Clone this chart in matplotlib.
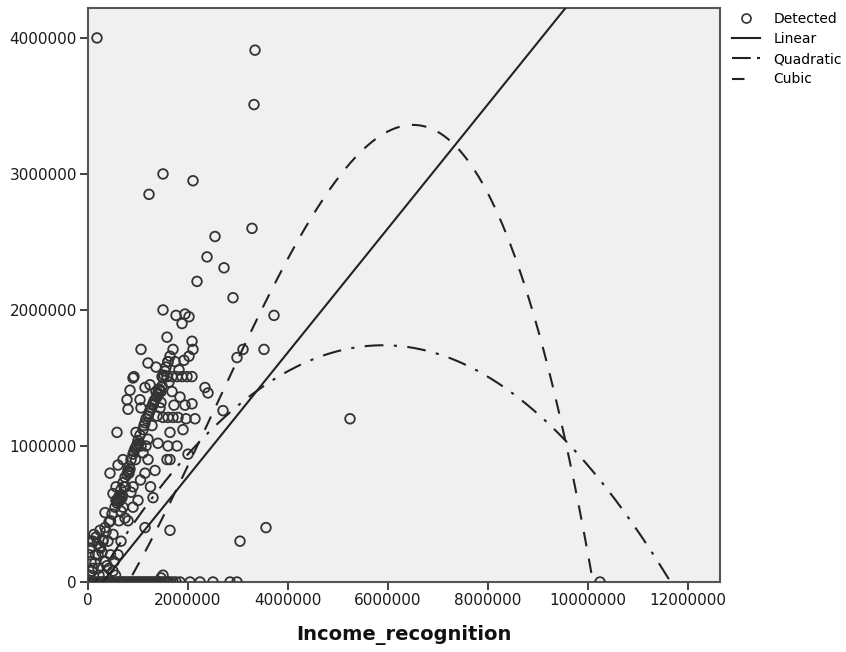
import numpy as np
import matplotlib
matplotlib.use("Agg")
import matplotlib.pyplot as plt
from matplotlib.lines import Line2D

# ---- data (values in millions) ----
outlier_x = [0.18, 3.34, 3.32, 1.50, 2.10, 1.22, 3.28, 2.54, 2.38, 2.72, 2.18, 2.90, 3.72, 2.98,
             3.10, 3.52, 2.70, 3.04, 3.56, 1.64, 5.24, 10.24, 2.34, 2.40]
outlier_y = [4.00, 3.91, 3.51, 3.00, 2.95, 2.85, 2.60, 2.54, 2.39, 2.31, 2.21, 2.09, 1.96, 1.65,
             1.71, 1.71, 1.26, 0.30, 0.40, 0.38, 1.20, 0.00, 1.43, 1.39]

streak_x = [0.14, 0.20, 0.24, 0.30, 0.36, 0.42, 0.48, 0.54, 0.58, 0.60, 0.60, 0.62, 0.66, 0.70,
            0.74, 0.78, 0.80, 0.80, 0.82, 0.86, 0.90, 0.94, 0.98, 0.98, 1.00, 1.04, 1.10, 1.14,
            1.20, 1.24, 1.30, 1.30, 1.34, 1.40, 1.40, 1.44, 1.48, 1.52, 1.56, 1.60, 1.64,
            0.62, 0.64, 0.82, 0.84, 0.92, 0.96, 1.02, 1.06, 1.16, 1.26, 1.36, 1.38, 1.42, 1.46,
            1.50, 1.54, 0.56, 0.68, 0.72, 1.12, 1.22, 1.32]
streak_y = [0.14, 0.20, 0.26, 0.31, 0.37, 0.44, 0.50, 0.55, 0.58, 0.60, 0.61, 0.63, 0.68, 0.73,
            0.77, 0.79, 0.81, 0.82, 0.85, 0.90, 0.94, 0.98, 1.00, 1.01, 1.04, 1.08, 1.12, 1.17,
            1.22, 1.26, 1.30, 1.31, 1.34, 1.38, 1.39, 1.41, 1.44, 1.52, 1.58, 1.62, 1.66,
            0.59, 0.62, 0.80, 0.83, 0.96, 0.99, 1.02, 1.00, 1.20, 1.28, 1.40, 1.36, 1.42, 1.40,
            1.50, 1.55, 0.60, 0.64, 0.70, 1.15, 1.24, 1.33]

cluster_x = [1.50, 1.76, 1.94, 2.02, 1.88, 1.58, 2.08, 1.06, 2.10, 1.70, 2.02, 1.20, 1.60, 0.90,
             0.92, 1.48, 1.58, 1.68, 1.78, 1.88, 1.98, 2.08, 0.84, 1.14, 0.78, 1.04, 1.94, 0.80,
             1.06, 2.08, 1.96, 2.14, 0.58, 1.64, 1.38, 1.50, 1.60, 1.70, 1.80, 1.90, 2.00, 1.78,
             1.60, 1.58, 1.64, 1.34, 1.14, 1.30, 1.14, 0.74, 0.34, 0.24, 0.60, 0.44, 1.20, 1.40,
             1.10, 0.95, 1.20, 0.75, 0.90, 1.05, 1.25, 0.50, 0.70, 0.90, 1.00, 0.45, 0.62, 0.80,
             0.30, 0.50, 0.66, 0.10, 0.05, 0.15, 0.20, 0.35, 0.45, 0.10, 0.02, 0.03, 0.30, 0.50,
             0.55, 0.25, 0.40, 0.06, 0.60, 0.12, 0.18, 0.28, 0.38, 0.08, 0.22, 0.42, 0.52, 0.04,
             0.16, 0.34, 1.24, 1.36, 1.68, 1.72, 1.46, 1.28, 1.16, 0.96, 0.70, 0.68, 0.86, 1.84,
             1.74, 1.62, 1.44, 1.92, 1.82, 0.66, 0.56, 1.50, 1.46]
cluster_y = [2.00, 1.96, 1.97, 1.95, 1.90, 1.80, 1.77, 1.71, 1.71, 1.71, 1.66, 1.61, 1.62, 1.50,
             1.51, 1.51, 1.51, 1.51, 1.51, 1.51, 1.51, 1.51, 1.41, 1.43, 1.34, 1.34, 1.30, 1.27,
             1.28, 1.31, 1.20, 1.20, 1.10, 1.10, 1.22, 1.21, 1.21, 1.21, 1.21, 1.12, 0.94, 1.00,
             1.00, 0.90, 0.90, 0.82, 0.80, 0.62, 0.40, 0.47, 0.51, 0.38, 0.86, 0.80, 1.05, 1.02,
             0.95, 0.90, 0.90, 0.70, 0.70, 0.75, 0.70, 0.65, 0.55, 0.55, 0.60, 0.45, 0.45, 0.45,
             0.30, 0.35, 0.30, 0.30, 0.25, 0.20, 0.10, 0.15, 0.20, 0.10, 0.20, 0.05, 0.05, 0.08,
             0.05, 0.25, 0.30, 0.15, 0.20, 0.35, 0.28, 0.22, 0.12, 0.08, 0.05, 0.10, 0.15, 0.30,
             0.33, 0.40, 1.45, 1.58, 1.40, 1.30, 1.32, 1.15, 1.00, 1.10, 0.90, 0.62, 0.66, 1.36,
             1.62, 1.47, 1.28, 1.63, 1.56, 0.52, 0.70, 0.05, 0.03]

zero_x = [0.00, 0.04, 0.08, 0.12, 0.16, 0.20, 0.24, 0.28, 0.32, 0.36, 0.40, 0.44, 0.48, 0.52,
          0.56, 0.60, 0.64, 0.68, 0.72, 0.76, 0.80, 0.84, 0.88, 0.92, 0.96, 1.00, 1.04, 1.08,
          1.12, 1.16, 1.20, 1.24, 1.28, 1.32, 1.36, 1.40, 1.44, 1.48, 1.52, 1.56, 1.60, 1.64,
          1.70, 1.76, 1.84, 2.04, 2.24, 2.50, 2.84, 2.98]
zero_y = [0.0] * len(zero_x)

# fitted curves (coefficients in millions)
lin_coef = [0.456, -0.135]                          # slope, intercept
quad_coef = [-0.05263, 0.6211, -0.092]              # x^2, x, const
cubic_coef = [-0.01674, 0.1274, 0.4654, -0.45]      # x^3, x^2, x, const
quad_range = [0.0, 11.65]
cubic_range = [0.0, 10.3]

xticks = [0, 2000000, 4000000, 6000000, 8000000, 10000000, 12000000]
yticks = [0, 1000000, 2000000, 3000000, 4000000]

# ---- plotting ----
M = 1e6
px = np.array(outlier_x + streak_x + cluster_x + zero_x) * M
py = np.array(outlier_y + streak_y + cluster_y + zero_y) * M

fig = plt.figure(figsize=(8.46, 6.52), dpi=100)
ax = fig.add_axes([88/846, 1 - 582/652, (720-88)/846, (582-8)/652])
ax.set_facecolor("#f0f0f0")
fig.patch.set_facecolor("white")

ax.scatter(px, py, s=48, facecolors="none", edgecolors="#333333", linewidths=1.3, zorder=3)

xl = np.linspace(0, 12.64, 300)
ax.plot(xl * M, np.polyval(lin_coef, xl) * M, color="#222222", lw=1.5, zorder=4)
xq = np.linspace(quad_range[0], quad_range[1], 400)
ax.plot(xq * M, np.polyval(quad_coef, xq) * M, color="#222222", lw=1.5,
        dashes=(9, 5, 1.5, 5), zorder=4)
xc = np.linspace(cubic_range[0], cubic_range[1], 400)
ax.plot(xc * M, np.polyval(cubic_coef, xc) * M, color="#222222", lw=1.5,
        dashes=(7, 6), zorder=4)

ax.set_xlim(0, 12.64 * M)
ax.set_ylim(0, 4.22 * M)
ax.set_xticks(xticks)
ax.set_xticklabels([str(v) for v in xticks])
ax.set_yticks(yticks)
ax.set_yticklabels([str(v) for v in yticks])
ax.tick_params(axis="both", direction="out", length=6, width=1.3, color="#333333",
               labelsize=11, labelcolor="#1a1a1a", pad=2)
for s in ax.spines.values():
    s.set_color("#555555")
    s.set_linewidth(1.5)

ax.set_xlabel("Income_recognition", fontsize=14, fontweight="bold", color="#111111", labelpad=12)

handles = [
    Line2D([], [], marker="o", ls="none", markerfacecolor="none", markeredgecolor="#333333",
           markersize=6.5, markeredgewidth=1.2),
    Line2D([], [], color="#222222", lw=1.5),
    Line2D([], [], color="#222222", lw=1.5, dashes=(9, 3, 1.5, 3)),
    Line2D([], [], color="#222222", lw=1.5, dashes=(6, 20)),
]
labels = ["Detected", "Linear", "Quadratic", "Cubic"]
fig.legend(handles, labels, loc="upper left", bbox_to_anchor=(722/846, 1 - 2/652),
           frameon=False, fontsize=10, handlelength=2.0, handletextpad=1.0,
           labelspacing=0.45, borderpad=0.2)

fig.savefig("out.png", dpi=100)
